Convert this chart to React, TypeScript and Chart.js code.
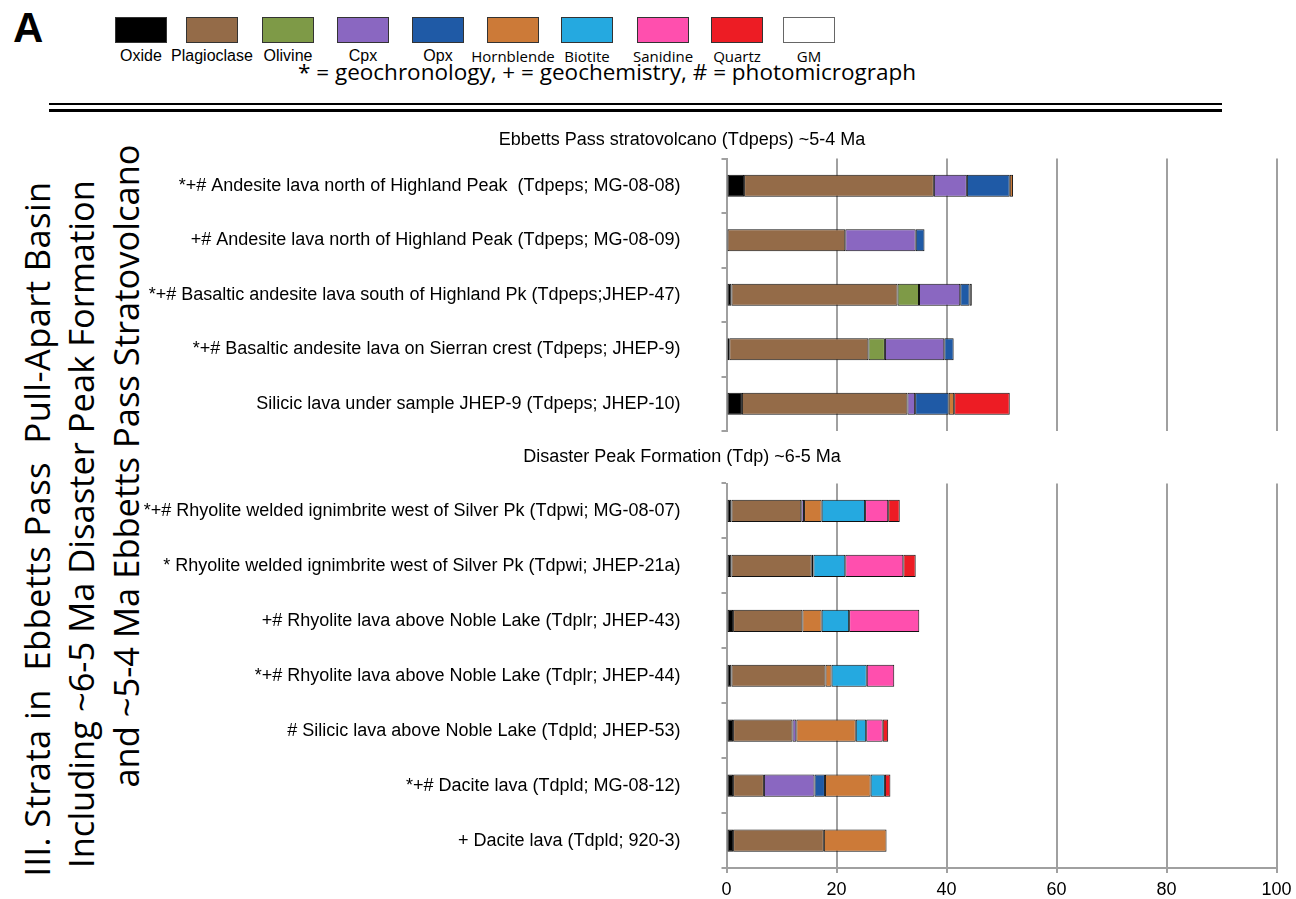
import React, { useEffect, useRef } from "react";
import { Chart, registerables } from "chart.js";

Chart.register(...registerables);

// ---------- legend / minerals ----------
const minerals = ["Oxide", "Plagioclase", "Olivine", "Cpx", "Opx", "Hornblende", "Biotite", "Sanidine", "Quartz", "GM"];
const mineralColors = ["#000000", "#946B48", "#7E9A47", "#8A67C1", "#1F5AA6", "#CC7A38", "#25A9E0", "#FF4FAE", "#ED1C24", "#FFFFFF"];

const headerLetter = "A";
const keyNote = "* = geochronology, + = geochemistry, # = photomicrograph";
const sideTitleLines = [
  "III. Strata in  Ebbetts Pass  Pull-Apart Basin",
  "Including ~6-5 Ma Disaster Peak Formation",
  "and ~5-4 Ma Ebbetts Pass Stratovolcano",
];

// ---------- x axis ----------
const xMin = 0;
const xMax = 100;
const xStep = 20;

// ---------- Ebbetts Pass stratovolcano panel ----------
const ebbettsTitle = "Ebbetts Pass stratovolcano (Tdpeps) ~5-4 Ma";
const ebbettsSamples = [
  "*+# Andesite lava north of Highland Peak  (Tdpeps; MG-08-08)",
  "+# Andesite lava north of Highland Peak (Tdpeps; MG-08-09)",
  "*+# Basaltic andesite lava south of Highland Pk (Tdpeps;JHEP-47)",
  "*+# Basaltic andesite lava on Sierran crest (Tdpeps; JHEP-9)",
  "Silicic lava under sample JHEP-9 (Tdpeps; JHEP-10)",
];
const ebbettsOxide = [3.2, 0, 0.9, 0.5, 2.8];
const ebbettsPlagioclase = [34.5, 21.6, 30.2, 25.3, 30.1];
const ebbettsOlivine = [0, 0, 3.9, 3.0, 0];
const ebbettsCpx = [6.0, 12.8, 7.5, 10.8, 1.4];
const ebbettsOpx = [7.8, 1.6, 1.7, 1.7, 6.1];
const ebbettsHornblende = [0.6, 0, 0, 0, 1.0];
const ebbettsBiotite = [0, 0, 0, 0, 0];
const ebbettsSanidine = [0, 0, 0, 0, 0];
const ebbettsQuartz = [0, 0, 0, 0, 10.1];
const ebbettsGM = [0, 0, 0.4, 0, 0];

// ---------- Disaster Peak Formation panel ----------
const disasterTitle = "Disaster Peak Formation (Tdp) ~6-5 Ma";
const disasterSamples = [
  "*+# Rhyolite welded ignimbrite west of Silver Pk (Tdpwi; MG-08-07)",
  "* Rhyolite welded ignimbrite west of Silver Pk (Tdpwi; JHEP-21a)",
  "+# Rhyolite lava above Noble Lake (Tdplr; JHEP-43)",
  "*+# Rhyolite lava above Noble Lake (Tdplr; JHEP-44)",
  "# Silicic lava above Noble Lake (Tdpld; JHEP-53)",
  "*+# Dacite lava (Tdpld; MG-08-12)",
  "+ Dacite lava (Tdpld; 920-3)",
];
const disasterOxide = [0.9, 0.9, 1.2, 0.9, 1.2, 1.2, 1.2];
const disasterPlagioclase = [12.7, 14.6, 12.6, 17.1, 10.8, 5.6, 16.5];
const disasterOlivine = [0, 0, 0, 0, 0, 0, 0];
const disasterCpx = [0.5, 0, 0, 0, 0.7, 9.2, 0];
const disasterOpx = [0, 0, 0, 0, 0, 1.9, 0];
const disasterHornblende = [3.2, 0.3, 3.5, 1.1, 10.8, 8.3, 11.4];
const disasterBiotite = [7.9, 5.8, 5.0, 6.4, 1.9, 2.6, 0];
const disasterSanidine = [4.2, 10.55, 12.75, 5.0, 3.0, 0, 0];
const disasterQuartz = [2.1, 2.25, 0, 0, 1.0, 1.0, 0];
const disasterGM = [0, 0, 0, 0, 0, 0, 0];

const ebbettsSeries = [ebbettsOxide, ebbettsPlagioclase, ebbettsOlivine, ebbettsCpx, ebbettsOpx, ebbettsHornblende, ebbettsBiotite, ebbettsSanidine, ebbettsQuartz, ebbettsGM];
const disasterSeries = [disasterOxide, disasterPlagioclase, disasterOlivine, disasterCpx, disasterOpx, disasterHornblende, disasterBiotite, disasterSanidine, disasterQuartz, disasterGM];

const ARIAL = "'Liberation Sans', Arial, sans-serif";
const OPEN = "'Open Sans', 'DejaVu Sans', sans-serif";
const GRID = "#a0a0a0";

type PanelProps = {
  labels: string[];
  series: number[][];
  title: string;
  showX: boolean;
  top: number;
  height: number;
  titlePadBottom: number;
};

function Panel({ labels, series, title, showX, top, height, titlePadBottom }: PanelProps) {
  const ref = useRef<HTMLCanvasElement | null>(null);
  useEffect(() => {
    if (!ref.current) return;
    const chart = new Chart(ref.current, {
      type: "bar",
      data: {
        labels,
        datasets: minerals.map((m, i) => ({
          label: m,
          data: series[i].map((v) => (v > 0 ? v : null)),
          backgroundColor: mineralColors[i],
          borderColor: "#111111",
          borderWidth: 1,
          borderSkipped: false,
          barPercentage: 0.405,
          categoryPercentage: 1,
        })),
      },
      options: {
        indexAxis: "y",
        responsive: false,
        maintainAspectRatio: false,
        animation: false,
        layout: { padding: { left: 19.5, right: 19.5, top: 0, bottom: showX ? 0 : 4 } },
        plugins: {
          legend: { display: false },
          tooltip: { enabled: false },
          title: {
            display: true,
            text: title,
            color: "#000",
            font: { family: ARIAL, size: 18, weight: "normal" },
            padding: { top: 0, bottom: titlePadBottom },
          },
        },
        scales: {
          x: {
            stacked: true,
            min: xMin,
            max: xMax,
            ticks: {
              stepSize: xStep,
              display: showX,
              color: "#000",
              font: { family: ARIAL, size: 18 },
              padding: 6,
              maxRotation: 0,
            },
            grid: { color: GRID, lineWidth: 2, drawTicks: showX, tickLength: 5 },
            border: { display: showX, color: GRID, width: 2 },
            afterFit: (s: any) => {
              s.height = showX ? 34 : 0;
              s.paddingLeft = 0;
              s.paddingRight = 0;
              s.paddingTop = 0;
              s.paddingBottom = 0;
            },
          },
          y: {
            stacked: true,
            ticks: {
              color: "#000",
              font: { family: ARIAL, size: 18 },
              padding: 41,
              autoSkip: false,
            },
            grid: { drawOnChartArea: false, drawTicks: true, tickLength: 5, color: GRID, lineWidth: 2 },
            border: { display: true, color: GRID, width: 2 },
            afterFit: (s: any) => {
              s.width = 639;
              s.paddingTop = 0;
              s.paddingBottom = 0;
              s.paddingLeft = 0;
              s.paddingRight = 0;
            },
          },
        },
      } as any,
    });
    return () => chart.destroy();
  }, []);
  return (
    <canvas
      ref={ref}
      width={1228}
      height={height}
      style={{ position: "absolute", left: 68, top, width: 1228, height }}
    />
  );
}

const legendLefts = [115, 186, 262, 337, 412, 487, 561, 637, 711, 783];
const sideCenterX = [37, 81, 126];
const sideCenterY = [529, 524, 466];

export default function App() {
  return (
    <div style={{ position: "absolute", left: 0, top: 0, width: 1296, height: 899, background: "#fff", overflow: "hidden" }}>
      <div style={{ position: "absolute", left: 13, top: 7.4, font: `bold 42px ${ARIAL}`, lineHeight: "42px", color: "#000" }}>{headerLetter}</div>
      {minerals.map((m, i) => {
        const left = legendLefts[i];
        const myriad = i >= 5;
        return (
          <React.Fragment key={m}>
            <div
              style={{
                position: "absolute",
                left,
                top: 17,
                width: 52,
                height: 26,
                boxSizing: "border-box",
                background: mineralColors[i],
                border: `1px solid ${i === 9 ? "#666" : "#333"}`,
              }}
            />
            <div
              style={{
                position: "absolute",
                left: left + 26 - 60,
                width: 120,
                textAlign: "center",
                top: myriad ? 48.7 : 47.5,
                font: myriad ? `15px ${OPEN}` : `16px ${ARIAL}`,
                lineHeight: myriad ? "15px" : "16px",
                color: "#000",
                whiteSpace: "nowrap",
              }}
            >
              {m}
            </div>
          </React.Fragment>
        );
      })}
      <div
        style={{
          position: "absolute",
          left: 298,
          top: 85 - 24,
          font: `22.5px ${OPEN}`,
          lineHeight: "22.5px",
          color: "#000",
          whiteSpace: "nowrap",
        }}
      >
        {keyNote}
      </div>
      <div style={{ position: "absolute", left: 49, top: 102.7, width: 1173, height: 2.6, background: "#000" }} />
      <div style={{ position: "absolute", left: 49, top: 108.7, width: 1173, height: 3, background: "#000" }} />
      {sideTitleLines.map((t, i) => (
        <div
          key={i}
          style={{
            position: "absolute",
            left: sideCenterX[i],
            top: sideCenterY[i],
            transform: "translate(-50%, -50%) rotate(-90deg)",
            font: `34.5px ${OPEN}`,
            lineHeight: "34.5px",
            letterSpacing: i === 0 ? "0.4px" : "0px",
            color: "#000",
            whiteSpace: "pre",
          }}
        >
          {t}
        </div>
      ))}
      <Panel labels={ebbettsSamples} series={ebbettsSeries} title={ebbettsTitle} showX={false} top={129} height={306} titlePadBottom={7.9} />
      <Panel labels={disasterSamples} series={disasterSeries} title={disasterTitle} showX={true} top={446} height={456} titlePadBottom={15.9} />
    </div>
  );
}
